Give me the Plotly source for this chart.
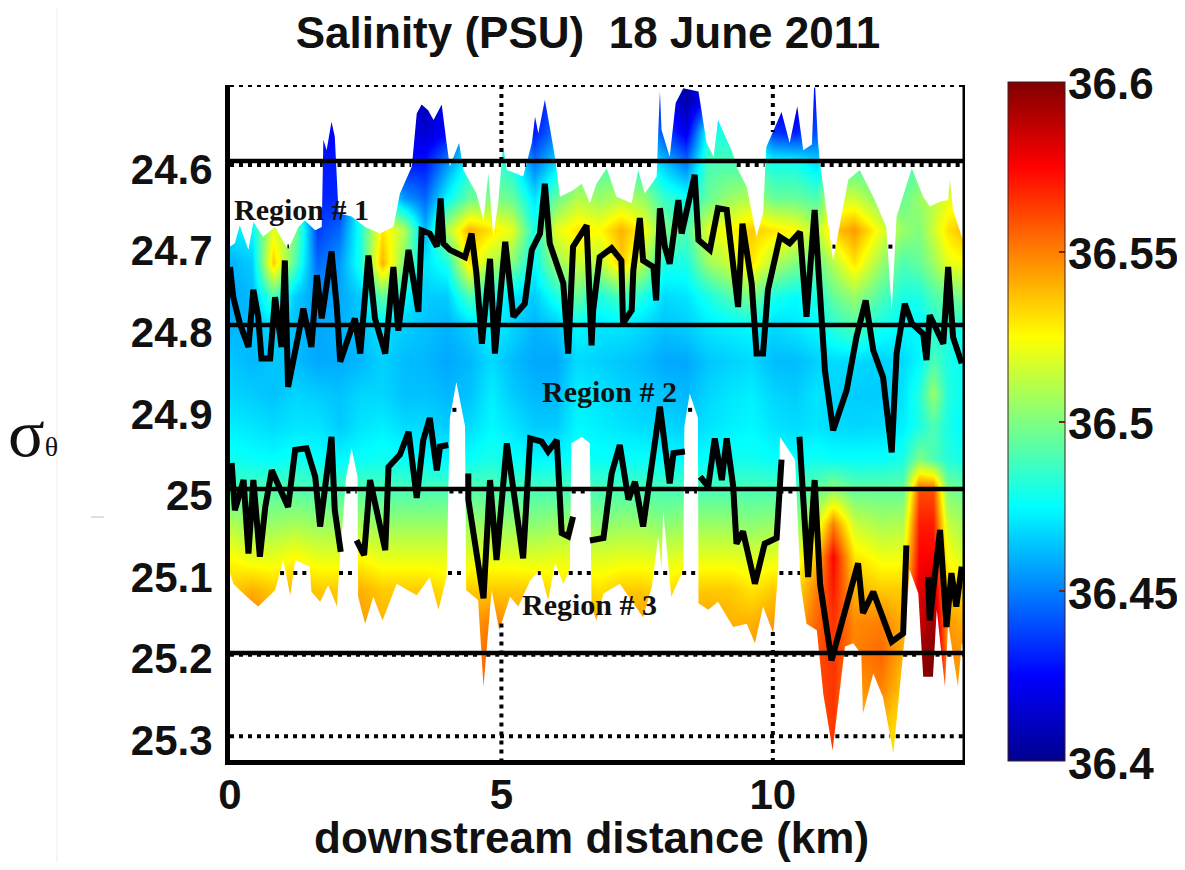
import numpy as np
import plotly.graph_objects as go

PAGE_MARGIN = 8
W, H = 1185 - 2 * PAGE_MARGIN, 870 - 2 * PAGE_MARGIN


def fx(px):
    return (px - PAGE_MARGIN) / W


def fy(py):
    return 1 - (py - PAGE_MARGIN) / H


x_columns = [0,.4,.8,1.2,1.6,2.0,2.4,2.8,3.2,3.6,4.0,4.4,4.8,5.2,5.6,6.0,6.4,6.8,7.2,7.6,8.0,8.4,8.8,9.2,9.6,10.0,10.4,10.8,11.1,11.5,12.0,12.4,12.7,12.95,13.2,13.55]
sigma_rows = [24.52,24.56,24.60,24.64,24.68,24.72,24.76,24.80,24.84,24.88,24.92,24.96,25.00,25.04,25.08,25.12,25.16,25.20,25.24,25.28,25.32]

# salinity in thousandths of a PSU above 36, one list per density level
s2452 = [440,440,440,440,420,420,440,440,415,410,420,450,460,460,425,440,460,460,460,450,430,405,430,470,460,420,415,430,460,470,470,470,470,470,470,470]
s2456 = [450,450,450,450,425,425,450,450,420,415,425,465,475,470,430,450,470,470,475,460,440,420,480,480,475,435,430,440,470,480,480,480,480,480,480,480]
s2460 = [470,470,470,470,430,430,470,470,430,430,455,480,490,480,450,470,490,490,490,480,465,450,490,490,490,480,480,470,485,490,490,490,490,490,495,495]
s2464 = [480,480,490,480,432,432,480,480,455,445,475,495,500,495,470,495,510,505,510,505,485,478,495,505,510,495,495,490,515,515,500,495,505,510,520,520]
s2468 = [470,475,520,500,437,445,480,530,510,460,510,540,530,520,480,520,530,525,540,525,500,490,520,525,535,530,525,510,535,545,520,505,500,515,530,540]
s2472 = [460,465,535,490,445,455,480,540,500,470,480,530,510,500,475,505,515,510,535,510,480,480,505,515,530,510,500,495,510,530,505,490,495,505,520,525]
s2476 = [458,462,490,465,455,458,465,495,475,465,465,490,480,470,465,480,495,480,490,480,468,470,480,490,500,480,475,480,495,505,490,480,480,490,495,500]
s2480 = [460,463,467,463,458,460,463,470,465,463,460,465,474,467,460,463,474,470,470,467,463,465,470,472,474,467,470,474,482,490,478,474,474,482,482,478]
s2484 = [464,461,464,462,458,459,461,466,462,461,458,461,468,462,458,458,468,466,464,462,458,458,464,466,468,462,462,466,468,468,466,468,474,490,480,476]
s2488 = [467,465,463,467,465,463,467,467,463,463,461,463,472,465,461,461,472,470,467,465,463,461,467,470,472,467,465,470,467,465,465,470,482,505,482,475]
s2492 = [472,470,468,470,470,465,470,472,468,468,465,468,474,470,465,465,474,472,470,468,468,465,470,472,474,470,468,470,468,467,468,472,480,490,480,472]
s2496 = [478,476,475,478,476,474,476,478,476,475,474,476,480,476,474,474,478,476,476,476,475,474,476,478,478,476,476,478,476,476,476,480,500,490,482,478]
s2500 = [490,490,492,492,490,490,492,490,490,490,490,492,492,490,490,490,490,490,490,490,490,490,490,490,490,490,490,495,505,495,495,495,560,560,500,495]
s2504 = [510,505,505,508,505,505,508,505,505,505,505,505,505,505,502,505,505,502,505,505,502,505,505,505,502,505,502,515,550,515,508,510,570,570,515,505]
s2508 = [525,520,520,525,520,520,525,520,520,520,520,520,520,520,518,520,520,518,520,520,518,520,520,520,518,520,520,535,575,530,522,522,575,575,525,515]
s2512 = [535,540,535,540,535,535,540,535,535,535,530,535,535,535,535,530,535,530,535,535,530,535,535,535,530,535,530,550,570,540,535,535,580,590,535,530]
s2516 = [545,552,545,545,545,540,545,540,540,540,540,545,550,545,545,540,545,540,545,545,540,540,545,540,540,545,540,555,565,548,550,540,585,595,545,540]
s2520 = [550,555,550,550,550,545,550,545,545,545,545,550,555,550,550,545,550,545,550,550,545,545,550,545,545,550,545,560,565,550,555,540,595,600,548,545]
s2524 = [550,555,550,550,550,545,550,545,545,545,545,552,558,550,550,545,550,545,550,550,545,545,550,545,545,550,545,560,565,545,550,535,600,600,545,540]
s2528 = [550,555,550,550,550,545,550,545,545,545,545,552,558,550,550,545,550,545,550,550,545,545,550,545,545,550,545,555,565,540,540,530,600,600,545,540]
s2532 = [550,555,550,550,550,545,550,545,545,545,545,552,558,550,550,545,550,545,550,550,545,545,550,545,545,550,545,555,565,540,535,525,600,600,545,540]

top_km = [0,.09,.18,.34,.43,.61,.83,1.07,1.26,1.38,1.57,1.69,1.72,1.78,1.87,1.93,2.0,2.24,2.49,2.76,3.01,3.13,3.35,3.44,3.53,3.65,3.75,3.90,3.99,4.05,4.22,4.30,4.54,4.67,4.76,4.85,4.94,5.03,5.10,5.40,5.56,5.62,5.68,5.80,5.89,5.99,6.08,6.32,6.48,6.63,6.75,6.94,7.12,7.40,7.52,7.64,7.86,7.89,7.92,7.95,8.10,8.21,8.35,8.63,8.78,8.91,8.99,9.24,9.36,9.52,9.70,9.82,9.88,10.16,10.31,10.45,10.56,10.72,10.76,10.78,10.83,10.87,10.93,11.11,11.39,11.60,11.85,12.09,12.19,12.28,12.56,12.77,12.89,13.08,13.23,13.26,13.32,13.48,13.55]
top_sigma = [24.70,24.696,24.674,24.704,24.670,24.688,24.676,24.704,24.676,24.668,24.680,24.676,24.569,24.582,24.547,24.565,24.659,24.663,24.676,24.684,24.676,24.635,24.602,24.537,24.526,24.533,24.545,24.526,24.573,24.602,24.573,24.606,24.635,24.668,24.610,24.688,24.647,24.576,24.606,24.614,24.573,24.541,24.561,24.520,24.553,24.592,24.639,24.631,24.623,24.647,24.623,24.604,24.639,24.647,24.606,24.635,24.614,24.557,24.510,24.557,24.590,24.524,24.506,24.510,24.573,24.590,24.545,24.582,24.606,24.627,24.688,24.659,24.578,24.535,24.573,24.528,24.582,24.575,24.505,24.505,24.570,24.598,24.627,24.717,24.618,24.606,24.639,24.676,24.778,24.663,24.604,24.639,24.651,24.645,24.643,24.618,24.655,24.688,24.70]

bottom_km = [0,.06,.31,.52,.83,.98,1.11,1.20,1.47,1.50,1.66,1.81,1.97,2.03,2.14,2.24,2.35,2.36,2.49,2.64,2.81,3.07,3.44,3.68,3.84,3.99,4.05,4.17,4.33,4.35,4.57,4.67,4.82,4.96,5.16,5.31,5.53,5.71,5.86,5.99,6.14,6.26,6.29,6.48,6.63,6.66,6.75,6.88,7.18,7.61,7.77,7.89,7.95,7.98,8.13,8.35,8.37,8.47,8.62,8.63,8.81,8.99,9.27,9.52,9.67,9.82,10.01,10.10,10.13,10.41,10.51,10.62,10.81,10.93,11.10,11.33,11.48,11.63,11.66,11.85,12.03,12.22,12.43,12.52,12.68,12.77,12.95,13.02,13.17,13.23,13.41,13.48,13.55]
bottom_sigma = [25.10,25.113,25.129,25.141,25.121,25.084,25.127,25.084,25.092,25.123,25.135,25.115,25.141,25.076,24.982,24.947,24.982,25.129,25.162,25.129,25.158,25.113,25.127,25.105,25.145,25.105,24.91,24.866,24.92,25.121,25.133,25.239,25.121,25.170,25.129,25.141,25.109,25.096,25.133,25.088,25.113,25.096,24.941,24.933,24.941,25.141,25.158,25.125,25.113,25.154,25.117,25.055,25.096,25.023,25.129,25.096,24.92,24.88,24.91,25.137,25.145,25.135,25.166,25.162,25.186,25.141,25.174,25.096,24.933,24.961,25.113,25.162,25.170,25.248,25.317,25.190,25.186,25.199,25.272,25.223,25.252,25.321,25.178,25.096,25.125,25.227,25.227,25.145,25.239,25.162,25.239,25.186,25.19]

upper_km = [0,.06,.18,.34,.43,.52,.58,.74,.83,.95,1.01,1.07,1.29,1.35,1.50,1.60,1.69,1.87,1.97,2.03,2.30,2.40,2.55,2.67,2.86,3.01,3.10,3.29,3.47,3.53,3.68,3.81,3.88,3.93,4.05,4.33,4.45,4.54,4.64,4.79,4.88,5.07,5.22,5.43,5.56,5.71,5.80,5.89,6.14,6.23,6.32,6.57,6.66,6.69,6.81,7.03,7.21,7.24,7.40,7.43,7.55,7.61,7.80,7.85,7.92,8.01,8.10,8.26,8.32,8.56,8.63,8.84,8.99,9.15,9.36,9.44,9.61,9.70,9.82,9.91,10.13,10.31,10.50,10.62,10.77,10.90,10.96,11.11,11.36,11.54,11.71,11.85,12.03,12.19,12.28,12.43,12.56,12.77,12.83,12.89,13.14,13.23,13.32,13.48]
upper_sigma = [24.725,24.762,24.794,24.823,24.753,24.786,24.837,24.837,24.762,24.823,24.717,24.872,24.798,24.776,24.823,24.735,24.788,24.706,24.776,24.841,24.788,24.831,24.711,24.788,24.831,24.725,24.803,24.704,24.780,24.680,24.684,24.700,24.641,24.696,24.704,24.713,24.684,24.733,24.819,24.715,24.831,24.694,24.786,24.770,24.704,24.684,24.623,24.696,24.745,24.831,24.700,24.674,24.821,24.778,24.713,24.702,24.717,24.794,24.778,24.729,24.665,24.717,24.725,24.766,24.653,24.700,24.721,24.643,24.684,24.612,24.692,24.704,24.653,24.655,24.774,24.672,24.745,24.831,24.831,24.753,24.688,24.696,24.682,24.786,24.655,24.778,24.852,24.925,24.876,24.811,24.766,24.827,24.860,24.952,24.831,24.770,24.794,24.807,24.839,24.784,24.819,24.725,24.811,24.843]

lower_km = [.03,.09,.25,.34,.43,.55,.65,.77,1.07,1.20,1.41,1.57,1.66,1.87,1.93,2.04,None,2.33,2.47,2.58,2.86,2.92,3.13,3.29,3.44,3.56,3.68,3.81,3.87,4.02,None,4.39,4.39,4.67,4.79,4.91,5.10,5.40,5.53,5.74,5.86,6.02,6.11,6.23,6.32,None,6.63,6.88,7.03,7.18,7.34,7.46,7.61,7.92,8.10,8.17,8.38,None,8.66,8.81,8.93,9.06,9.15,9.27,9.33,9.45,9.67,9.85,10.07,10.16,None,10.49,10.65,10.77,10.87,11.08,11.57,11.66,11.85,12.19,12.40,12.46,None,12.86,12.89,13.08,13.20,13.29,13.38,13.48]
lower_sigma = [24.965,25.023,24.986,25.076,24.986,25.080,25.019,24.974,25.019,24.949,24.947,24.982,25.043,24.933,25.023,25.074,None,25.060,25.078,24.986,25.072,24.970,24.955,24.927,25.008,24.937,24.910,24.974,24.945,24.943,None,24.978,25.010,25.131,24.986,25.084,24.941,25.082,24.935,24.939,24.951,24.937,25.051,25.055,25.031,None,25.060,25.057,24.978,24.943,25.010,24.988,25.043,24.896,24.990,24.953,24.951,None,24.982,24.994,24.935,24.986,24.935,24.994,25.064,25.049,25.113,25.064,25.057,24.961,None,24.933,25.105,24.986,25.113,25.207,25.088,25.149,25.123,25.184,25.174,25.066,None,25.105,25.158,25.047,25.166,25.100,25.141,25.092]

region_bounds = [24.595, 24.796, 24.997, 25.198]
grid_sigma = [24.502, 24.6, 24.7, 24.8, 24.9, 25.0, 25.1, 25.2, 25.3]
grid_km = [5, 10]
sigma_ticks = [24.6, 24.7, 24.8, 24.9, 25.0, 25.1, 25.2, 25.3]
sigma_labels = ["24.6", "24.7", "24.8", "24.9", "25", "25.1", "25.2", "25.3"]
km_ticks = [0, 5, 10]
bar_ticks = [36.4, 36.45, 36.5, 36.55, 36.6]
bar_labels = ["36.4", "36.45", "36.5", "36.55", "36.6"]
regions = ["Region # 1", "Region # 2", "Region # 3"]
region_km = [1.31, 7.0, 6.63]
region_sigma = [24.655, 24.878, 25.139]

jet = [[0, "#00008f"], [.125, "#0000ff"], [.375, "#00ffff"], [.625, "#ffff00"], [.875, "#ff0000"], [1, "#800000"]]
XMAX, YTOP, YBOT = 13.54, 24.502, 25.329
SANS = "Liberation Sans"
SERIF = "Liberation Serif"
INK = "#111111"
BAR_TOP, BAR_BOTTOM = 82, 761

z = 36 + np.array([s2452,s2456,s2460,s2464,s2468,s2472,s2476,s2480,s2484,s2488,s2492,s2496,s2500,s2504,s2508,s2512,s2516,s2520,s2524,s2528,s2532]) / 1000

fig = go.Figure()
fig.add_trace(go.Heatmap(x=x_columns, y=sigma_rows, z=z, zmin=36.4, zmax=36.6, colorscale=jet, zsmooth="best",
    colorbar=dict(x=fx(1008), xanchor="left", y=fy((BAR_TOP + BAR_BOTTOM) / 2), yanchor="middle",
                  thickness=57, thicknessmode="pixels", len=BAR_BOTTOM - BAR_TOP, lenmode="pixels", outlinewidth=1, outlinecolor="#402020",
                  ticks="inside", ticklen=6, tickwidth=2, tickcolor="#802000",
                  tickvals=bar_ticks, showticklabels=False, xpad=0, ypad=0)))

# white above the upper and below the lower edge of the sampled field
fig.add_trace(go.Scatter(x=[0] + top_km + [XMAX + .1, XMAX + .1, 0], y=[YTOP - .02] + top_sigma + [top_sigma[-1], YTOP - .02, YTOP - .02],
                         fill="toself", fillcolor="white", mode="none", hoverinfo="skip", showlegend=False))
fig.add_trace(go.Scatter(x=[0] + bottom_km + [XMAX + .1, XMAX + .1, 0], y=[YBOT + .02] + bottom_sigma + [bottom_sigma[-1], YBOT + .02, YBOT + .02],
                         fill="toself", fillcolor="white", mode="none", hoverinfo="skip", showlegend=False))

# dotted grid, visible only where no field was sampled
fine_km = np.linspace(0, XMAX, 500)
top_at = np.interp(fine_km, top_km, top_sigma)
bot_at = np.interp(fine_km, bottom_km, bottom_sigma)
dot = dict(color="black", width=4, dash="4px,5px")
for s in grid_sigma:
    y = np.where((s <= top_at) | (s >= bot_at), s, np.nan)
    fig.add_trace(go.Scatter(x=fine_km, y=y, mode="lines", line=dot, hoverinfo="skip", showlegend=False, connectgaps=False, cliponaxis=False))
for k in grid_km:
    t, b = np.interp(k, top_km, top_sigma), np.interp(k, bottom_km, bottom_sigma)
    fig.add_trace(go.Scatter(x=[k, k, None, k, k], y=[YTOP, t, None, b, YBOT], mode="lines", line=dot, hoverinfo="skip", showlegend=False))

for s in region_bounds:
    fig.add_trace(go.Scatter(x=[0, XMAX], y=[s, s], mode="lines", line=dict(color="black", width=4.5), hoverinfo="skip", showlegend=False))

fig.add_trace(go.Scatter(x=upper_km, y=upper_sigma, mode="lines", line=dict(color="black", width=6), showlegend=False, name="upper isopycnal"))
fig.add_trace(go.Scatter(x=lower_km, y=lower_sigma, mode="lines", line=dict(color="black", width=6), showlegend=False, name="lower isopycnal"))
fig.add_trace(go.Scatter(x=[XMAX, XMAX], y=[YTOP, YBOT], mode="lines", line=dict(color="black", width=5), cliponaxis=False, hoverinfo="skip", showlegend=False))

for txt, k, s in zip(regions, region_km, region_sigma):
    fig.add_annotation(x=k, y=s, text=f"<b>{txt}</b>", showarrow=False, font=dict(family=SERIF, size=30, color=INK))

# colour-bar labels, placed from the same values as the bar
for v, label in zip(bar_ticks, bar_labels):
    py = BAR_BOTTOM - (v - bar_ticks[0]) / (bar_ticks[-1] - bar_ticks[0]) * (BAR_BOTTOM - BAR_TOP) + 2
    fig.add_annotation(x=fx(1068), y=fy(py), xref="paper", yref="paper", xanchor="left", yanchor="middle", showarrow=False, xshift=-2,
                       text=f"<b>{label}</b>", font=dict(family=SANS, size=44, color=INK))

fig.add_annotation(x=fx(6), y=fy(433), xref="paper", yref="paper", xanchor="left", yanchor="middle", showarrow=False,
                   text='σ<span style="font-size:28px">θ</span>', font=dict(family=SERIF, size=68, color=INK))

fig.add_annotation(x=fx(591), y=fy(837), xref="paper", yref="paper", xanchor="center", yanchor="middle", showarrow=False,
                   text="<b>downstream distance (km)</b>", font=dict(family=SANS, size=44, color=INK))

fig.add_shape(type="line", xref="paper", yref="paper", x0=fx(57), x1=fx(57), y0=0, y1=1, line=dict(color="#ececec", width=1))
fig.add_shape(type="line", xref="paper", yref="paper", x0=fx(91), x1=fx(104), y0=fy(517), y1=fy(517), line=dict(color="#c0c0c0", width=1))

fig.update_layout(
    width=W, height=H, paper_bgcolor="white", plot_bgcolor="white", margin=dict(l=0, r=0, t=0, b=0, autoexpand=False),
    title=dict(text="<b>Salinity (PSU)\u00a0 18 June 2011</b>", x=fx(588), xanchor="center", y=fy(33), yanchor="middle",
               font=dict(family=SANS, size=44, color=INK)),
    xaxis=dict(domain=[fx(230), fx(965)], range=[0, XMAX], tickvals=km_ticks, showgrid=False, zeroline=False, showline=True,
               linecolor="black", linewidth=5, ticks="", ticklabelstandoff=-6,
               tickfont=dict(family=SANS, size=42, color=INK, weight="bold")),
    yaxis=dict(domain=[fy(760), fy(85)], range=[YBOT, YTOP], tickvals=sigma_ticks, ticktext=sigma_labels, showgrid=False,
               zeroline=False, showline=True, linecolor="black", linewidth=5, ticks="", ticklabelstandoff=4, ticklabelshift=-4,
               tickfont=dict(family=SANS, size=42, color=INK, weight="bold")),
)
fig.write_html("out.html")
